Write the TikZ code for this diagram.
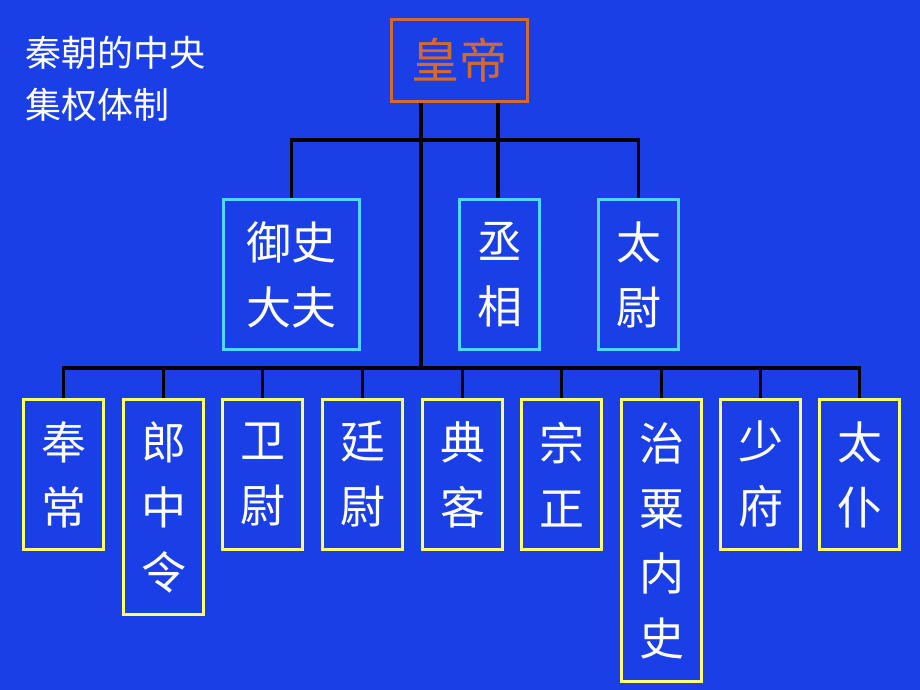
\documentclass[tikz,border=0pt]{standalone}
\usepackage{fontspec}
\setmainfont{Noto Sans CJK SC}
\begin{document}
\begin{tikzpicture}[x=1pt,y=-1pt,
  box/.style={draw,line width=3pt,text=white,font=\fontsize{45}{65}\selectfont,align=center,inner sep=0pt,anchor=north west},
  lnk/.style={black,line width=3.2pt}]
\definecolor{bg}{HTML}{1A3FE6}
\definecolor{org}{HTML}{D2692E}
\definecolor{cy}{HTML}{4FD8FF}
\definecolor{yl}{HTML}{FFFF70}
\fill[bg] (0,0) rectangle (920,690);
\useasboundingbox (0,0) rectangle (920,690);
\node[anchor=north west,text=white,font=\fontsize{36}{52}\selectfont,align=left,inner sep=0pt] (title) at (25,36) {秦朝的中央\\集权体制};
\node[box,draw=org,text=org,font=\fontsize{48}{60}\selectfont,minimum width=136pt,minimum height=82pt] (hd) at (390,18) {皇帝};
\foreach \n/\x/\w/\t in {ys/222/136/{御史\\大夫},cx/458/80/{丞\\相},tw/597/80/{太\\尉}}
  \node[box,draw=cy,minimum width=\w pt,minimum height=150pt] (\n) at (\x,198) {\t};
\foreach \n/\x/\h/\t in {a/22/150/{奉\\常},b/122/215/{郎\\中\\令},c/221/150/{卫\\尉},d/321/150/{廷\\尉},e/421/150/{典\\客},f/520/150/{宗\\正},g/620/282/{治\\粟\\内\\史},h/719/150/{少\\府},i/818/150/{太\\仆}}
  \node[box,draw=yl,minimum width=80pt,minimum height=\h pt] (\n) at (\x,398) {\t};
\coordinate (m1) at (421,140);
\coordinate (m2) at (421,368);
\draw[lnk] (hd.south west)++(31,0) -- (m2);
\draw[lnk] (hd.south west)++(108,0) -- (cx.north -| 498,0);
\draw[lnk] (ys.north) -- (ys.north |- m1) -- (tw.north |- m1) -- (tw.north);
\draw[lnk] (a.north) -- (a.north |- m2) -- (i.north |- m2) -- (i.north);
\foreach \n in {b,c,d,e,f,g,h}
  \draw[lnk] (\n.north) -- (\n.north |- m2);
\end{tikzpicture}
\end{document}
